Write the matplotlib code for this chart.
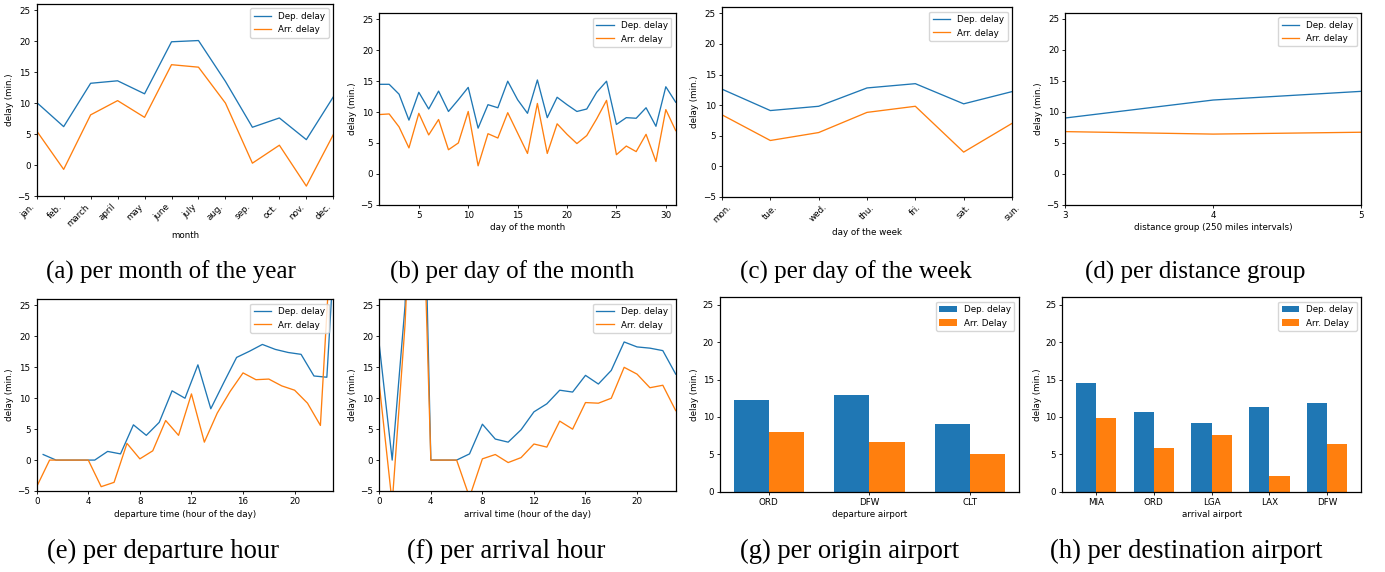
import matplotlib
matplotlib.use("Agg")
import matplotlib.pyplot as plt
import numpy as np

# data
months = ['jan.', 'feb.', 'march', 'april', 'may', 'june', 'july', 'aug.',
          'sep.', 'oct.', 'nov.', 'dec.']
month_dep = [10.1, 6.2, 13.2, 13.6, 11.5, 19.9, 20.1, 13.5, 6.1, 7.6, 4.1, 11.0]
month_arr = [5.5, -0.7, 8.1, 10.4, 7.7, 16.2, 15.8, 10.0, 0.3, 3.2, -3.4, 4.9]

days = list(range(1, 32))
day_dep = [14.5, 14.5, 12.9, 8.7, 13.2, 10.5, 13.4, 10.1, 12.0, 14.0, 7.4,
           11.2, 10.7, 15.0, 12.0, 9.8, 15.2, 9.1, 12.4, 11.2, 10.1, 10.5,
           13.2, 15.0, 8.0, 9.1, 9.0, 10.7, 7.7, 14.1, 11.6]
day_arr = [9.6, 9.7, 7.6, 4.2, 9.8, 6.3, 8.8, 3.9, 5.0, 10.1, 1.3, 6.5, 5.8,
           9.9, 6.6, 3.3, 11.4, 3.3, 8.1, 6.4, 4.9, 6.2, 8.9, 11.9, 3.1, 4.5,
           3.6, 6.4, 2.0, 10.4, 7.0]

weekdays = ['mon.', 'tue.', 'wed.', 'thu.', 'fri.', 'sat.', 'sun.']
week_dep = [12.6, 9.1, 9.8, 12.8, 13.5, 10.2, 12.2]
week_arr = [8.4, 4.2, 5.5, 8.8, 9.8, 2.3, 7.0]

dist_groups = [3, 4, 5]
dist_dep = [9.0, 11.9, 13.3]
dist_arr = [6.8, 6.4, 6.7]

dep_hours_dep = [0.5, 1.5, 2.5, 3.5, 4.5, 5.5, 6.5, 7.5, 8.5, 9.5, 10.5, 11.5,
                 12.5, 13.5, 14.5, 15.5, 16.5, 17.5, 18.5, 19.5, 20.5, 21.5,
                 22.5, 23.5]
deph_dep = [0.9, 0.0, 0.0, 0.0, 0.0, 1.4, 1.0, 5.7, 4.0, 6.1, 11.2, 10.0,
            15.4, 8.3, 12.5, 16.6, 17.6, 18.7, 17.9, 17.4, 17.1, 13.6, 13.4, 49.0]
dep_hours_arr = list(range(0, 24))
deph_arr = [-4.3, 0.0, 0.0, 0.0, 0.0, -4.3, -3.6, 2.7, 0.2, 1.5, 6.4, 4.0,
            10.7, 2.9, 7.6, 11.1, 14.1, 13.0, 13.1, 12.0, 11.3, 9.2, 5.6, 42.0]

arr_hours = list(range(0, 24))
arrh_dep = [18.6, 0.0, 25.0, 90.0, 0.0, 0.0, 0.0, 1.0, 5.8, 3.4, 2.9, 4.9,
            7.8, 9.1, 11.3, 11.0, 13.7, 12.3, 14.5, 19.1, 18.3, 18.1, 17.7, 13.9]
arrh_arr = [12.2, -7.0, 22.0, 70.0, 0.0, 0.0, 0.0, -6.0, 0.2, 0.9, -0.4, 0.4,
            2.6, 2.1, 6.3, 5.0, 9.3, 9.2, 10.0, 15.0, 13.9, 11.7, 12.1, 8.0]

origins = ['ORD', 'DFW', 'CLT']
origin_dep = [12.2, 12.9, 9.0]
origin_arr = [8.0, 6.7, 5.1]

dests = ['MIA', 'ORD', 'LGA', 'LAX', 'DFW']
dest_dep = [14.6, 10.6, 9.2, 11.3, 11.9]
dest_arr = [9.8, 5.9, 7.6, 2.1, 6.4]

W, H = 1385, 572
FS = 6.3
plt.rcParams.update({
    'font.size': FS,
    'axes.linewidth': 0.9,
    'xtick.major.size': 2.2,
    'ytick.major.size': 2.2,
    'xtick.major.width': 0.6,
    'ytick.major.width': 0.6,
    'xtick.major.pad': 2.2,
    'ytick.major.pad': 2.2,
    'legend.fontsize': FS,
    'axes.labelpad': 2.5,
})

fig = plt.figure(figsize=(W / 100, H / 100), dpi=100)


def axes_px(left, top, right, bottom):
    return fig.add_axes([left / W, 1 - bottom / H, (right - left) / W, (bottom - top) / H])


def line_panel(ax, x1, y1, x2, y2, xlabel):
    ax.plot(x1, y1, color='#1f77b4', lw=0.95, label='Dep. delay')
    ax.plot(x2, y2, color='#ff7f0e', lw=0.95, label='Arr. delay')
    ax.set_ylim(-5, 26)
    ax.set_yticks([-5, 0, 5, 10, 15, 20, 25])
    ax.set_ylabel('delay (min.)')
    ax.set_xlabel(xlabel)
    ax.legend(loc='upper right')


def bar_panel(ax, names, dep, arr, xlabel):
    x = np.arange(len(names))
    w = 0.35
    ax.bar(x - w / 2, dep, w, color='#1f77b4', label='Dep. delay')
    ax.bar(x + w / 2, arr, w, color='#ff7f0e', label='Arr. Delay')
    ax.set_xticks(x)
    ax.set_xticklabels(names)
    ax.set_ylim(0, 26)
    ax.set_ylabel('delay (min.)')
    ax.set_xlabel(xlabel)
    ax.legend(loc='upper right')


# (a)
ax = axes_px(36.7, 4, 333.3, 196)
line_panel(ax, range(12), month_dep, range(12), month_arr, 'month')
ax.set_xlim(0, 11)
ax.set_xticks(range(12))
ax.set_xticklabels(months, rotation=45, ha='right')

# (b)
ax = axes_px(379.3, 13.3, 675.7, 204.7)
line_panel(ax, days, day_dep, days, day_arr, 'day of the month')
ax.set_xlim(1, 31)
ax.set_xticks([5, 10, 15, 20, 25, 30])

# (c)
ax = axes_px(722, 7.3, 1012, 196.7)
line_panel(ax, range(7), week_dep, range(7), week_arr, 'day of the week')
ax.set_xlim(0, 6)
ax.set_xticks(range(7))
ax.set_xticklabels(weekdays, rotation=45, ha='center')

# (d)
ax = axes_px(1065.3, 12.7, 1361, 204.7)
line_panel(ax, dist_groups, dist_dep, dist_groups, dist_arr,
           'distance group (250 miles intervals)')
ax.set_xlim(3, 5)
ax.set_xticks(dist_groups)

# (e)
ax = axes_px(36.7, 299.3, 333.3, 491)
line_panel(ax, dep_hours_dep, deph_dep, dep_hours_arr, deph_arr,
           'departure time (hour of the day)')
ax.set_xlim(0, 23)
ax.set_xticks([0, 4, 8, 12, 16, 20])

# (f)
ax = axes_px(379.3, 299.3, 675.7, 491)
line_panel(ax, arr_hours, arrh_dep, arr_hours, arrh_arr,
           'arrival time (hour of the day)')
ax.set_xlim(0, 23)
ax.set_xticks([0, 4, 8, 12, 16, 20])

# (g)
ax = axes_px(720, 297.3, 1018.7, 491.7)
bar_panel(ax, origins, origin_dep, origin_arr, 'departure airport')

# (h)
ax = axes_px(1062.3, 297.3, 1361, 491.7)
bar_panel(ax, dests, dest_dep, dest_arr, 'arrival airport')

captions = ['(a) per month of the year', '(b) per day of the month',
            '(c) per day of the week', '(d) per distance group',
            '(e) per departure hour', '(f) per arrival hour',
            '(g) per origin airport', '(h) per destination airport']
cap_x = [171, 512, 856, 1195, 163, 506, 850, 1186]
cap_y = [272, 272, 272, 272, 551, 551, 551, 551]
cap_fs = [18, 18, 18, 18, 19.2, 19.2, 19.2, 19.2]
for txt, cx, cy, fs in zip(captions, cap_x, cap_y, cap_fs):
    fig.text(cx / W, 1 - cy / H, txt, ha='center', va='center',
             family='Liberation Serif', fontsize=fs)

fig.savefig('out.png', dpi=100)
